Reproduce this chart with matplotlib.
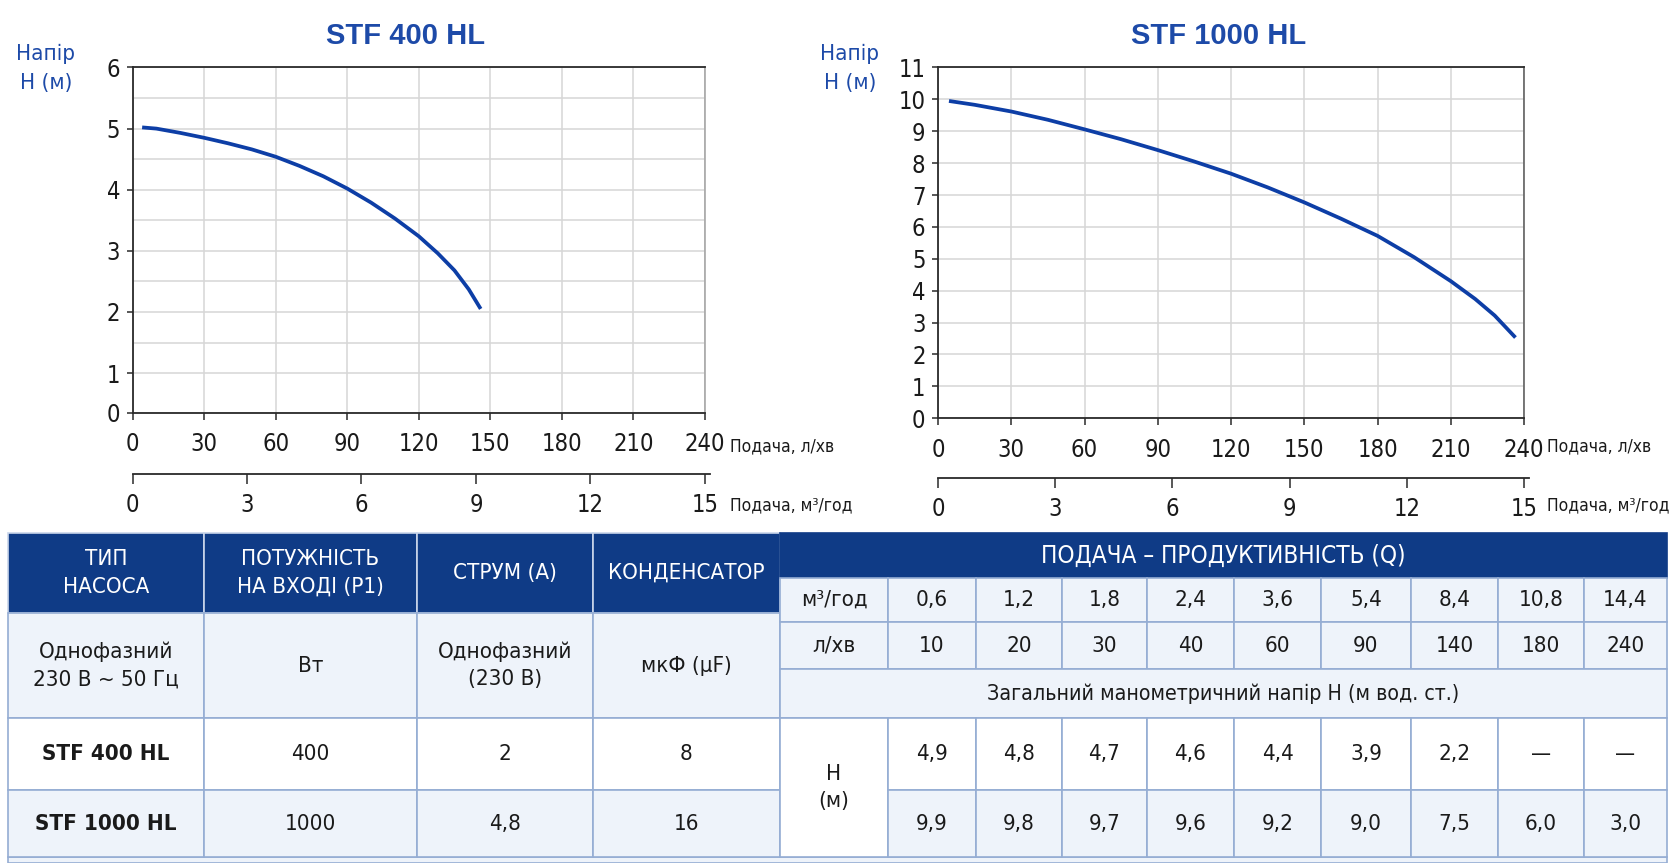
import matplotlib
matplotlib.use('Agg')
import matplotlib.pyplot as plt
from matplotlib.patches import Rectangle

plt.rcParams['font.family'] = ['DejaVu Sans']
plt.rcParams['font.stretch'] = 'condensed'

# ---------------- data ----------------
titles = ['STF 400 HL', 'STF 1000 HL']

q400 = [4, 10, 20, 30, 40, 50, 60, 70, 80, 90, 100, 110, 120, 128, 135, 141, 146]
h400 = [5.02, 5.00, 4.93, 4.85, 4.76, 4.66, 4.54, 4.39, 4.22, 4.02, 3.79, 3.53, 3.24, 2.96, 2.68, 2.37, 2.05]

q1000 = [4.5, 15, 30, 45, 60, 75, 90, 105, 120, 135, 150, 165, 180, 195, 210, 220, 228, 236.5]
h1000 = [9.95, 9.83, 9.62, 9.36, 9.06, 8.75, 8.41, 8.05, 7.67, 7.24, 6.77, 6.26, 5.72, 5.05, 4.30, 3.74, 3.22, 2.53]

x_ticks_lmin = [0, 30, 60, 90, 120, 150, 180, 210, 240]
x_ticks_m3h = [0, 3, 6, 9, 12, 15]
y_ticks_400 = [0, 1, 2, 3, 4, 5, 6]
y_ticks_1000 = [0, 1, 2, 3, 4, 5, 6, 7, 8, 9, 10, 11]

hdr_left = ['ТИП\nНАСОСА', 'ПОТУЖНІСТЬ\nНА ВХОДІ (P1)', 'СТРУМ (А)', 'КОНДЕНСАТОР']
units_left = ['Однофазний\n230 В ~ 50 Гц', 'Вт', 'Однофазний\n(230 В)', 'мкФ (μF)']
models = ['STF 400 HL', 'STF 1000 HL']
power_w = [400, 1000]
current_a = [2, 4.8]
capacitor_uf = [8, 16]

flow_m3h = [0.6, 1.2, 1.8, 2.4, 3.6, 5.4, 8.4, 10.8, 14.4]
flow_lmin = [10, 20, 30, 40, 60, 90, 140, 180, 240]
head_400 = [4.9, 4.8, 4.7, 4.6, 4.4, 3.9, 2.2, None, None]
head_1000 = [9.9, 9.8, 9.7, 9.6, 9.2, 9.0, 7.5, 6.0, 3.0]

# ---------------- style ----------------
W, H = 1677, 863
BLUE_T = '#1d4aa8'
LINE = '#0d3ea6'
GRID = '#d6d6d6'
NAVY = '#0f3b86'
LIGHT = '#eef3fa'
BORDER = '#95add3'
TXT = '#1a1a1a'


def fx(px):
    return px / W


def fy(py):
    return 1 - py / H


def fmt_num(v):
    if v is None:
        return '—'
    if isinstance(v, float):
        return ('%.1f' % v).replace('.', ',')
    return str(v)


fig = plt.figure(figsize=(W / 100, H / 100), dpi=100)
fig.patch.set_facecolor('white')

Y400_BOTTOM = 0.35

charts = [
    dict(title=titles[0], q=q400, h=h400, left=132.6, right=704.8, top=67.5, bottom=412.8,
         yticks=y_ticks_400, ylim=(Y400_BOTTOM, 6), half_grid=True, title_x=406,
         hlab_x=46, sec_y=474, xl_x=730, rspine='#a0a0a0'),
    dict(title=titles[1], q=q1000, h=h1000, left=938, right=1524, top=67.5, bottom=418.2,
         yticks=y_ticks_1000, ylim=(0, 11), half_grid=False, title_x=1219,
         hlab_x=850, sec_y=478, xl_x=1547, rspine='#555555'),
]

for c in charts:
    ax = fig.add_axes([fx(c['left']), fy(c['bottom']), fx(c['right'] - c['left']),
                       (c['bottom'] - c['top']) / H])
    ax.set_xlim(0, 240)
    ax.set_ylim(*c['ylim'])
    ax.set_xticks(x_ticks_lmin)
    ax.set_xticklabels([str(t) for t in x_ticks_lmin])
    if c['half_grid']:
        pos = [c['ylim'][0]] + c['yticks'][1:]
        ax.set_yticks(pos)
        ax.set_yticklabels([str(t) for t in c['yticks']])
        ax.set_yticks([t + 0.5 for t in c['yticks'][1:-1]], minor=True)
        ax.grid(True, which='minor', axis='y', color=GRID, lw=1.1)
        ax.tick_params(axis='y', which='minor', length=0)
    else:
        ax.set_yticks(c['yticks'])
        ax.set_yticklabels([str(t) for t in c['yticks']])
    ax.grid(True, which='major', color=GRID, lw=1.1)
    ax.set_axisbelow(True)
    ax.plot(c['q'], c['h'], color=LINE, lw=2.7, solid_capstyle='butt',
            solid_joinstyle='round', zorder=3)
    for s in ['left', 'bottom', 'top']:
        ax.spines[s].set_color('#2a2a2a')
        ax.spines[s].set_linewidth(1.3)
    ax.spines['right'].set_color(c['rspine'])
    ax.spines['right'].set_linewidth(1.1)
    ax.tick_params(axis='x', which='major', direction='out', length=5, width=1.1,
                   pad=9, labelsize=17, colors='#2a2a2a', labelcolor=TXT)
    ax.tick_params(axis='y', which='major', direction='out', length=4, width=1.1,
                   pad=5, labelsize=17, colors='#2a2a2a', labelcolor=TXT)

    # secondary flow axis (m3/h)
    ext = 5
    sec = fig.add_axes([fx(c['left']), fy(c['sec_y']), fx(c['right'] - c['left'] + ext), 0.0005])
    sec.set_xlim(0, 15 * (c['right'] - c['left'] + ext) / (c['right'] - c['left']))
    sec.set_xticks(x_ticks_m3h)
    sec.set_xticklabels([str(t) for t in x_ticks_m3h])
    sec.set_yticks([])
    sec.patch.set_alpha(0)
    for s in ['left', 'right', 'top']:
        sec.spines[s].set_visible(False)
    sec.spines['bottom'].set_color('#2a2a2a')
    sec.spines['bottom'].set_linewidth(1.3)
    sec.tick_params(axis='x', direction='out', length=7, width=1.1, pad=7,
                    labelsize=17, colors='#2a2a2a', labelcolor=TXT)

    fig.text(fx(c['title_x']), fy(36), c['title'], ha='center', va='center',
             fontsize=21, fontweight='bold', color=BLUE_T, family=['Liberation Sans', 'DejaVu Sans'],
             fontstretch='normal')
    fig.text(fx(c['hlab_x']), fy(54), 'Напір', ha='center', va='center', fontsize=16, color=BLUE_T)
    fig.text(fx(c['hlab_x']), fy(83), 'Н (м)', ha='center', va='center', fontsize=16, color=BLUE_T)
    fig.text(fx(c['xl_x']), fy(446), 'Подача, л/хв', ha='left', va='center', fontsize=12.5, color=TXT)
    fig.text(fx(c['xl_x']), fy(505), 'Подача, м³/год', ha='left', va='center', fontsize=12.5, color=TXT)

# ---------------- table ----------------
tab = fig.add_axes([0, 0, 1, 1])
tab.set_xlim(0, W)
tab.set_ylim(H, 0)
tab.axis('off')
tab.patch.set_alpha(0)

L_COLS = [8, 204, 417, 593, 780]
R_COLS = [780, 888, 976, 1062, 1147, 1234, 1321, 1411, 1498, 1584, 1667]
TOP, L_HDR, R_HDR, R1, R2, R3, MID, BOT = 533, 613, 578, 622, 669, 718, 790, 857
FS = 16


def cell(x0, y0, x1, y1, fc, text='', color=TXT, weight='normal', fs=FS, ec=BORDER, lw=1.2):
    tab.add_patch(Rectangle((x0, y0), x1 - x0, y1 - y0, facecolor=fc, edgecolor=ec, lw=lw, zorder=1))
    if text:
        tab.text((x0 + x1) / 2, (y0 + y1) / 2, text, ha='center', va='center', fontsize=fs,
                 color=color, fontweight=weight, linespacing=1.45, zorder=2)


# bottom strip
tab.add_patch(Rectangle((L_COLS[0], BOT), R_COLS[-1] - L_COLS[0], H - BOT, facecolor=LIGHT,
                        edgecolor=BORDER, lw=1.2, zorder=0))

# left header
for i, t in enumerate(hdr_left):
    cell(L_COLS[i], TOP, L_COLS[i + 1], L_HDR, NAVY, t, color='white', ec='#c9d5ea')
# left units row
for i, t in enumerate(units_left):
    cell(L_COLS[i], L_HDR, L_COLS[i + 1], R3, LIGHT, t)
# model rows
rows = [(R3, MID, 'white'), (MID, BOT, LIGHT)]
for m, (y0, y1, bg) in enumerate(rows):
    vals = [models[m], fmt_num(power_w[m]), fmt_num(current_a[m]), fmt_num(capacitor_uf[m])]
    for i, t in enumerate(vals):
        cell(L_COLS[i], y0, L_COLS[i + 1], y1, bg, t,
             weight='bold' if i == 0 else 'normal')

# right header
cell(R_COLS[0], TOP, R_COLS[-1], R_HDR, NAVY, 'ПОДАЧА – ПРОДУКТИВНІСТЬ (Q)', color='white',
     ec=NAVY, fs=17.5)
# flow rows
cell(R_COLS[0], R_HDR, R_COLS[1], R1, LIGHT, 'м³/год')
cell(R_COLS[0], R1, R_COLS[1], R2, LIGHT, 'л/хв')
for j in range(len(flow_m3h)):
    cell(R_COLS[j + 1], R_HDR, R_COLS[j + 2], R1, LIGHT, fmt_num(flow_m3h[j]))
    cell(R_COLS[j + 1], R1, R_COLS[j + 2], R2, LIGHT, fmt_num(flow_lmin[j]))
cell(R_COLS[0], R2, R_COLS[-1], R3, LIGHT, 'Загальний манометричний напір Н (м вод. ст.)', fs=15.3)
cell(R_COLS[0], R3, R_COLS[1], BOT, 'white', 'Н\n(м)', fs=FS)
for j in range(len(head_400)):
    cell(R_COLS[j + 1], R3, R_COLS[j + 2], MID, 'white', fmt_num(head_400[j]))
    cell(R_COLS[j + 1], MID, R_COLS[j + 2], BOT, LIGHT, fmt_num(head_1000[j]))

fig.savefig('out.png', dpi=100, facecolor='white')
